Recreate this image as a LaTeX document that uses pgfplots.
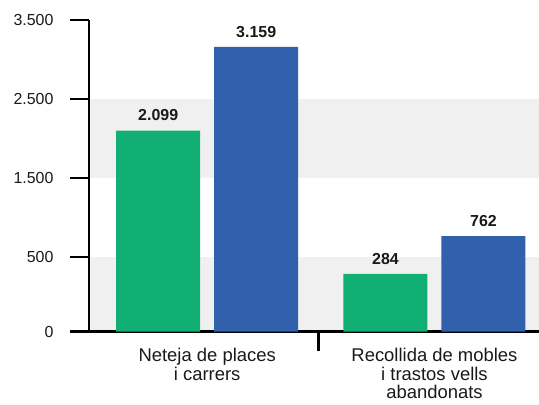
\documentclass[border=0pt]{standalone}
\usepackage{fontspec}
\setmainfont{Liberation Sans}
\usepackage{pgfplots}
\pgfplotsset{compat=1.18}
\definecolor{cgreen}{RGB}{18,175,117}
\definecolor{cblue}{RGB}{49,96,172}
\definecolor{band}{RGB}{240,240,240}
\definecolor{txt}{RGB}{25,25,25}
\begin{document}
\begin{tikzpicture}
\begin{axis}[
  set layers,
  scale only axis, width=450bp, height=311.7bp,
  xmin=-0.52, xmax=1.46, ymin=-450, ymax=3500,
  y coord trafo/.code={\pgfmathparse{#1+450}},
  y coord inv trafo/.code={\pgfmathparse{#1-450}},
  axis x line=bottom, axis y line=left,
  axis line style={-, line width=2.4bp, black},
  tick align=outside,
  major tick length=19bp,
  tick style={line width=2.4bp, black},
  ytick={-450,500,1500,2500,3500},
  yticklabels={0,500,1.500,2.500,3.500},
  yticklabel style={font=\fontsize{16}{18}\selectfont, text=txt, xshift=-13bp},
  xtick={0.49}, xticklabels={},
  extra x ticks={0,1},
  extra x tick labels={{Neteja de places\\i carrers},{Recollida de mobles\\i trastos vells\\abandonats}},
  extra x tick style={major tick length=0pt, tick style={draw=none}},
  xticklabel style={align=center, font=\fontsize{18.5}{18.5}\selectfont, text=txt, anchor=north, yshift=-13bp},
  ybar=14bp, bar width=84bp,
  point meta=explicit symbolic,
  nodes near coords,
  nodes near coords style={font=\bfseries\fontsize{16}{18}\selectfont, text=txt, anchor=south, yshift=6bp},
  clip=false,
]
\begin{pgfonlayer}{axis background}
\fill[band] (axis cs:-0.52,-450) rectangle (axis cs:1.46,500);
\fill[band] (axis cs:-0.52,1500) rectangle (axis cs:1.46,2500);
\end{pgfonlayer}
\addplot[fill=cgreen, draw=none] coordinates {(0,2099) [2.099] (1,284) [284]};
\addplot[fill=cblue, draw=none] coordinates {(0,3159) [3.159] (1,762) [762]};
\end{axis}
\pgfresetboundingbox
\path[use as bounding box] (-89bp,-73.3bp) rectangle (450bp,331.7bp);
\end{tikzpicture}
\end{document}
